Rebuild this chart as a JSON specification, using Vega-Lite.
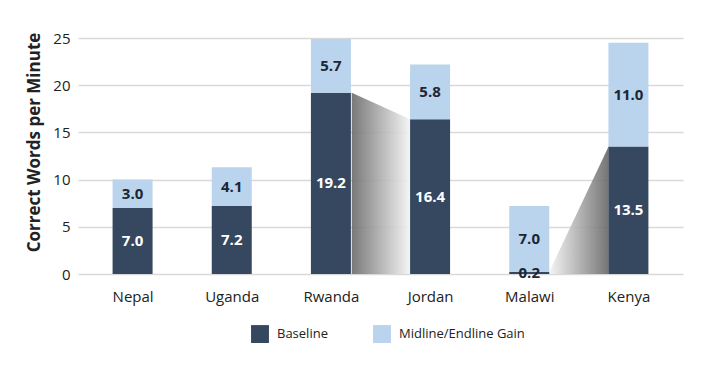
{
  "$schema": "https://vega.github.io/schema/vega-lite/v6.json",
  "width": 605,
  "height": 236,
  "autosize": "none",
  "padding": {"left": 78, "top": 38, "right": 24, "bottom": 93},
  "background": "white",
  "config": {
    "font": "Open Sans",
    "view": {"stroke": null},
    "axis": {"labelFont": "Open Sans", "titleFont": "Open Sans"}
  },
  "datasets": {
    "bars": [
      {"country": "Nepal", "pos": 1, "series": "Baseline", "order": 1, "value": 7.0},
      {"country": "Nepal", "pos": 1, "series": "Midline/Endline Gain", "order": 2, "value": 3.0},
      {"country": "Uganda", "pos": 2, "series": "Baseline", "order": 1, "value": 7.2},
      {"country": "Uganda", "pos": 2, "series": "Midline/Endline Gain", "order": 2, "value": 4.1},
      {"country": "Rwanda", "pos": 3, "series": "Baseline", "order": 1, "value": 19.2},
      {"country": "Rwanda", "pos": 3, "series": "Midline/Endline Gain", "order": 2, "value": 5.7},
      {"country": "Jordan", "pos": 4, "series": "Baseline", "order": 1, "value": 16.4},
      {"country": "Jordan", "pos": 4, "series": "Midline/Endline Gain", "order": 2, "value": 5.8},
      {"country": "Malawi", "pos": 5, "series": "Baseline", "order": 1, "value": 0.2},
      {"country": "Malawi", "pos": 5, "series": "Midline/Endline Gain", "order": 2, "value": 7.0},
      {"country": "Kenya", "pos": 6, "series": "Baseline", "order": 1, "value": 13.5},
      {"country": "Kenya", "pos": 6, "series": "Midline/Endline Gain", "order": 2, "value": 11.0}
    ],
    "links": [
      {"link": "Rwanda-Jordan", "x": 3.21, "y": 19.2},
      {"link": "Rwanda-Jordan", "x": 3.8, "y": 16.4},
      {"link": "Malawi-Kenya", "x": 5.2, "y": 0.2},
      {"link": "Malawi-Kenya", "x": 5.8, "y": 13.5}
    ]
  },
  "layer": [
    {
      "data": {"name": "links"},
      "transform": [{"filter": "datum.link === 'Rwanda-Jordan'"}],
      "mark": {
        "type": "area",
        "opacity": 0.9,
        "fill": {
          "gradient": "linear", "x1": 0, "y1": 0, "x2": 1, "y2": 0,
          "stops": [{"offset": 0, "color": "#6a6a6a"}, {"offset": 1, "color": "#f4f4f4"}]
        }
      },
      "encoding": {
        "x": {"field": "x", "type": "quantitative", "scale": {"domain": [0.5, 6.5]}},
        "y": {"field": "y", "type": "quantitative", "scale": {"domain": [0, 25]}}
      }
    },
    {
      "data": {"name": "links"},
      "transform": [{"filter": "datum.link === 'Malawi-Kenya'"}],
      "mark": {
        "type": "area",
        "opacity": 0.9,
        "fill": {
          "gradient": "linear", "x1": 0, "y1": 0, "x2": 1, "y2": 0,
          "stops": [{"offset": 0, "color": "#f4f4f4"}, {"offset": 1, "color": "#666666"}]
        }
      },
      "encoding": {
        "x": {"field": "x", "type": "quantitative"},
        "y": {"field": "y", "type": "quantitative"}
      }
    },
    {
      "data": {"name": "bars"},
      "transform": [
        {"stack": "value", "groupby": ["country"], "sort": [{"field": "order", "order": "ascending"}], "as": ["v0", "v1"]}
      ],
      "mark": {"type": "bar", "size": 40},
      "encoding": {
        "x": {
          "field": "pos", "type": "quantitative",
          "scale": {"domain": [0.5, 6.5], "nice": false, "zero": false},
          "axis": {
            "title": null, "values": [1, 2, 3, 4, 5, 6], "grid": false, "ticks": false, "domain": false,
            "labelExpr": "['Nepal','Uganda','Rwanda','Jordan','Malawi','Kenya'][datum.value - 1]",
            "labelFontSize": 15, "labelColor": "#222222", "labelPadding": 15
          }
        },
        "y": {
          "field": "v0", "type": "quantitative",
          "scale": {"domain": [0, 25], "nice": false},
          "axis": {
            "title": "Correct Words per Minute", "titleFontSize": 17, "titleFontWeight": "bold", "titleColor": "#222222",
            "titlePadding": 9, "titleY": 104,
            "values": [0, 5, 10, 15, 20, 25], "domain": false, "ticks": false,
            "labelFontSize": 15, "labelColor": "#222222", "labelPadding": 8,
            "gridColor": "#d9d9d9", "gridWidth": 1.5
          }
        },
        "y2": {"field": "v1"},
        "color": {
          "field": "series", "type": "nominal",
          "scale": {"domain": ["Baseline", "Midline/Endline Gain"], "range": ["#35485f", "#b9d4ec"]},
          "legend": {
            "title": null, "orient": "none", "legendX": 173, "legendY": 287, "padding": 0, "direction": "horizontal",
            "symbolType": "square", "symbolSize": 320, "symbolStrokeWidth": 0,
            "labelFontSize": 13, "labelColor": "#222222", "columnPadding": 45, "labelOffset": 8
          }
        }
      }
    },
    {
      "data": {"name": "bars"},
      "transform": [
        {"stack": "value", "groupby": ["country"], "sort": [{"field": "order", "order": "ascending"}], "as": ["v0", "v1"]},
        {"calculate": "(datum.v0 + datum.v1) / 2", "as": "mid"}
      ],
      "mark": {"type": "text", "fontWeight": "bold", "fontSize": 15, "baseline": "middle"},
      "encoding": {
        "x": {"field": "pos", "type": "quantitative"},
        "y": {"field": "mid", "type": "quantitative"},
        "text": {"field": "value", "type": "quantitative", "format": ".1f"},
        "color": {
          "condition": {"test": "datum.series === 'Baseline' && datum.value > 1", "value": "white"},
          "value": "#1d2633"
        }
      }
    }
  ]
}
